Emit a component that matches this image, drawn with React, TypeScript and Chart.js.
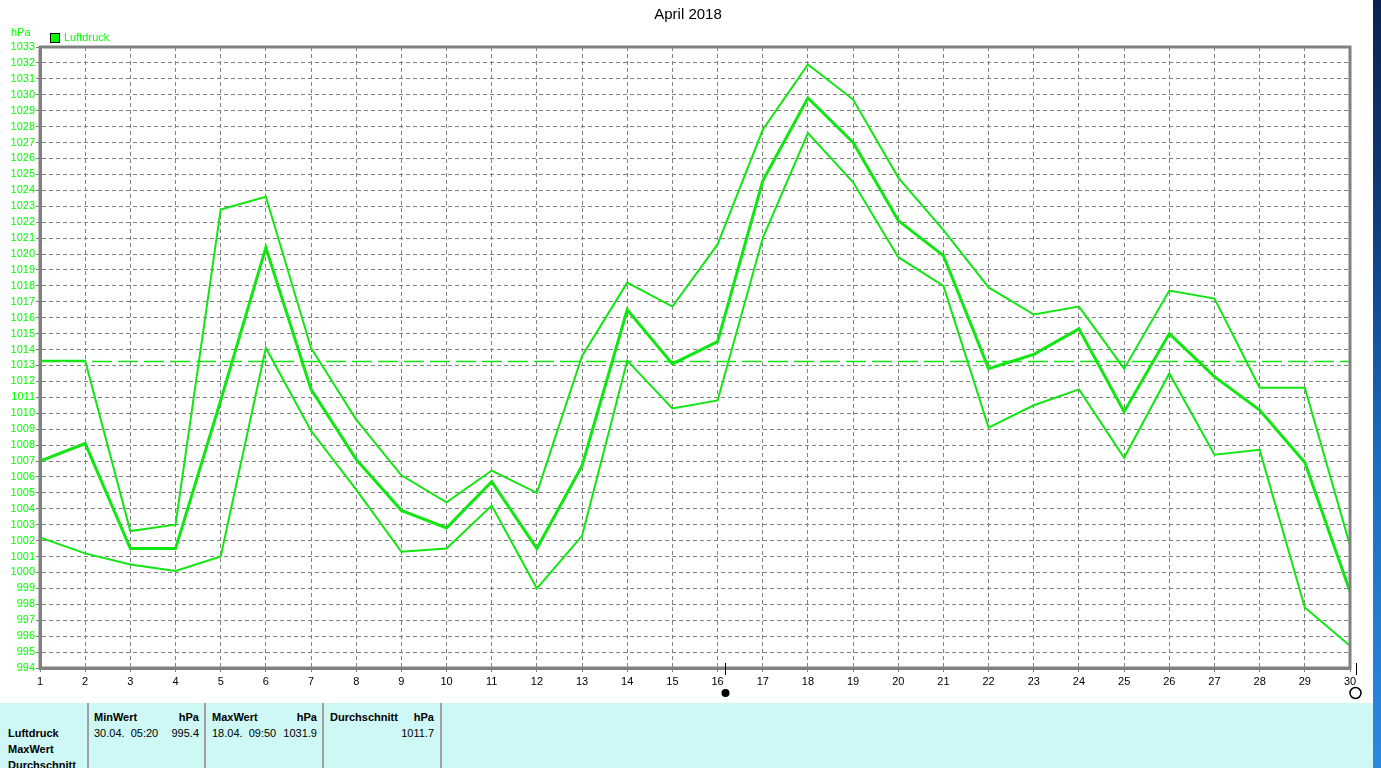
import React, { useEffect, useRef } from "react";
import { Chart, registerables } from "chart.js";

Chart.register(...registerables);

// ---- data ----
const days = [1, 2, 3, 4, 5, 6, 7, 8, 9, 10, 11, 12, 13, 14, 15, 16, 17, 18, 19, 20, 21, 22, 23, 24, 25, 26, 27, 28, 29, 30];
const maxValues = [1013.3, 1013.3, 1002.6, 1003.0, 1022.8, 1023.6, 1014.1, 1009.6, 1006.1, 1004.4, 1006.4, 1005.0, 1013.6, 1018.2, 1016.7, 1020.6, 1027.8, 1031.9, 1029.7, 1024.8, 1021.5, 1017.9, 1016.2, 1016.7, 1012.8, 1017.7, 1017.2, 1011.6, 1011.6, 1001.7];
const avgValues = [1007.0, 1008.1, 1001.5, 1001.5, 1010.8, 1020.4, 1011.5, 1007.1, 1003.9, 1002.8, 1005.7, 1001.5, 1006.7, 1016.5, 1013.1, 1014.5, 1024.6, 1029.8, 1027.0, 1022.1, 1019.9, 1012.8, 1013.7, 1015.3, 1010.1, 1015.0, 1012.3, 1010.2, 1006.9, 998.8];
const minValues = [1002.2, 1001.2, 1000.5, 1000.1, 1001.0, 1014.1, 1008.9, 1005.2, 1001.3, 1001.5, 1004.2, 999.0, 1002.3, 1013.3, 1010.3, 1010.8, 1021.0, 1027.6, 1024.5, 1019.8, 1018.0, 1009.1, 1010.5, 1011.5, 1007.2, 1012.5, 1007.4, 1007.7, 997.8, 995.4];
const referenceLevel = 1013.25;
const yMin = 994;
const yMax = 1033;
const moonDays = [16.17, 30.13];
const moonKinds = ["new", "full"];

const titleText = "April 2018";
const unitText = "hPa";
const legendText = "Luftdruck";

const rowLabels = ["Luftdruck", "MaxWert", "Durchschnitt"];
const headers = [["MinWert", "hPa"], ["MaxWert", "hPa"], ["Durchschnitt", "hPa"]];
const cellDates = ["30.04.  05:20", "18.04.  09:50", ""];
const cellValues = ["995.4", "1031.9", "1011.7"];

const GREEN_TEXT = "#00ff00";
const GREEN_LINE = "#12e612";
const GRAY = "#808080";
const FONT = "'Liberation Sans', Arial, sans-serif";

const decorPlugin = {
  id: "decor",
  afterDraw(chart: any) {
    const { ctx, chartArea } = chart;
    const xs = chart.scales.x;
    ctx.save();
    // frame
    ctx.strokeStyle = GRAY;
    ctx.lineWidth = 3;
    ctx.setLineDash([]);
    ctx.strokeRect(chartArea.left, chartArea.top, chartArea.right - chartArea.left, chartArea.bottom - chartArea.top);
    // title
    ctx.fillStyle = "#000";
    ctx.font = `15px ${FONT}`;
    ctx.textAlign = "center";
    ctx.textBaseline = "middle";
    ctx.fillText(titleText, 688, 15);
    // unit
    ctx.fillStyle = GREEN_TEXT;
    ctx.font = `11px ${FONT}`;
    ctx.textAlign = "left";
    ctx.fillText(unitText, 11, 33);
    // legend
    ctx.fillStyle = GREEN_TEXT;
    ctx.fillRect(50.5, 33.5, 9, 9);
    ctx.strokeStyle = "#000";
    ctx.lineWidth = 1;
    ctx.strokeRect(50.5, 33.5, 9, 9);
    ctx.fillStyle = GREEN_TEXT;
    ctx.fillText(legendText, 64, 38);
    // moon phases
    moonDays.forEach((d, i) => {
      const x = Math.round(xs.getPixelForValue(d)) + 0.5;
      ctx.strokeStyle = "#000";
      ctx.lineWidth = 1;
      ctx.beginPath();
      ctx.moveTo(x, chartArea.bottom - 5);
      ctx.lineTo(x, chartArea.bottom + 7);
      ctx.stroke();
      ctx.beginPath();
      if (moonKinds[i] === "new") {
        ctx.fillStyle = "#000";
        ctx.arc(x, 693, 4, 0, Math.PI * 2);
        ctx.fill();
      } else {
        ctx.lineWidth = 1.5;
        ctx.arc(x - 1, 693, 5.5, 0, Math.PI * 2);
        ctx.stroke();
      }
    });
    ctx.restore();
  },
};

function PressureChart() {
  const ref = useRef<HTMLCanvasElement | null>(null);
  useEffect(() => {
    if (!ref.current) return;
    const chart = new Chart(ref.current, {
      type: "line",
      data: {
        labels: days,
        datasets: [
          {
            label: "Normaldruck",
            data: days.map((d) => ({ x: d, y: referenceLevel })),
            borderColor: GREEN_LINE,
            borderWidth: 1.5,
            borderDash: [20, 6],
            pointRadius: 0,
          },
          {
            label: "Max",
            data: days.map((d, i) => ({ x: d, y: maxValues[i] })),
            borderColor: GREEN_LINE,
            borderWidth: 2,
            pointRadius: 0,
            tension: 0,
          },
          {
            label: "Min",
            data: days.map((d, i) => ({ x: d, y: minValues[i] })),
            borderColor: GREEN_LINE,
            borderWidth: 2,
            pointRadius: 0,
            tension: 0,
          },
          {
            label: legendText,
            data: days.map((d, i) => ({ x: d, y: avgValues[i] })),
            borderColor: GREEN_LINE,
            borderWidth: 3,
            pointRadius: 0,
            tension: 0,
          },
        ],
      },
      options: {
        animation: false,
        responsive: false,
        maintainAspectRatio: false,
        layout: { padding: { top: 47, right: 31, left: 0, bottom: 0 } },
        plugins: {
          legend: { display: false },
          title: { display: false },
          tooltip: { enabled: false },
        },
        scales: {
          x: {
            type: "linear",
            min: 1,
            max: 30,
            afterFit: (s: any) => {
              s.height = 32;
            },
            ticks: {
              stepSize: 1,
              autoSkip: false,
              maxRotation: 0,
              color: "#000",
              padding: 3,
              font: { family: FONT, size: 11 },
              callback: (v: any) => String(v),
            },
            grid: { color: GRAY, lineWidth: 1, tickLength: 4, tickColor: GRAY },
            border: { display: true, color: GRAY, width: 3, dash: [4, 3] },
          },
          y: {
            min: yMin,
            max: yMax,
            afterFit: (s: any) => {
              s.width = 40;
            },
            ticks: {
              stepSize: 1,
              autoSkip: false,
              color: GREEN_TEXT,
              padding: 1,
              font: { family: FONT, size: 11 },
              callback: (v: any) => String(v),
            },
            grid: { color: GRAY, lineWidth: 1, tickLength: 4, tickColor: GRAY },
            border: { display: true, color: GRAY, width: 3, dash: [4, 3] },
          },
        },
      },
      plugins: [decorPlugin],
    } as any);
    return () => chart.destroy();
  }, []);
  return <canvas ref={ref} width={1381} height={700} style={{ position: "absolute", left: 0, top: 0, display: "block" }} />;
}

const txt = (content: string, left: number, top: number, bold: boolean, align: "left" | "right" = "left") => {
  const style: React.CSSProperties = {
    position: "absolute",
    top,
    fontFamily: FONT,
    fontSize: 11,
    lineHeight: "14px",
    fontWeight: bold ? "bold" : "normal",
    whiteSpace: "pre",
    color: "#000",
  };
  if (align === "left") style.left = left;
  else style.right = 1373 - left;
  return (
    <span key={`${content}-${left}-${top}`} style={style}>
      {content}
    </span>
  );
};

function StatsTable() {
  const colStarts = [94, 212, 330];
  const colEnds = [199, 317, 434];
  const seps = [88, 205, 323, 441];
  return (
    <div style={{ position: "absolute", left: 0, top: 703, width: 1373, height: 65, background: "#cdf8f5", overflow: "hidden" }}>
      {seps.map((s) => (
        <div key={s} style={{ position: "absolute", left: s - 1, top: 0, width: 2, height: 65, background: "#a0a0a0" }} />
      ))}
      <div style={{ position: "absolute", left: 0, top: -703, width: 1373, height: 768 }}>
        {rowLabels.map((r, i) => txt(r, 8, 726 + i * 16, true))}
        {headers.map((h, i) => [txt(h[0], colStarts[i], 710, true), txt(h[1], colEnds[i], 710, true, "right")])}
        {cellDates.map((d, i) => (d ? txt(d, colStarts[i], 726, false) : null))}
        {cellValues.map((v, i) => txt(v, colEnds[i], 726, false, "right"))}
      </div>
    </div>
  );
}

export default function App() {
  useEffect(() => {
    document.body.style.margin = "0";
    document.body.style.overflow = "hidden";
  }, []);
  return (
    <div style={{ position: "absolute", left: 0, top: 0, width: 1381, height: 768, overflow: "hidden", background: "#fff" }}>
      <PressureChart />
      <StatsTable />
      <div
        style={{
          position: "absolute",
          left: 1373,
          top: 0,
          width: 8,
          height: 768,
          background: "linear-gradient(180deg, #0a2350 0%, #0f3f80 30%, #1a6ec4 60%, #2a8ae0 100%)",
        }}
      />
    </div>
  );
}
